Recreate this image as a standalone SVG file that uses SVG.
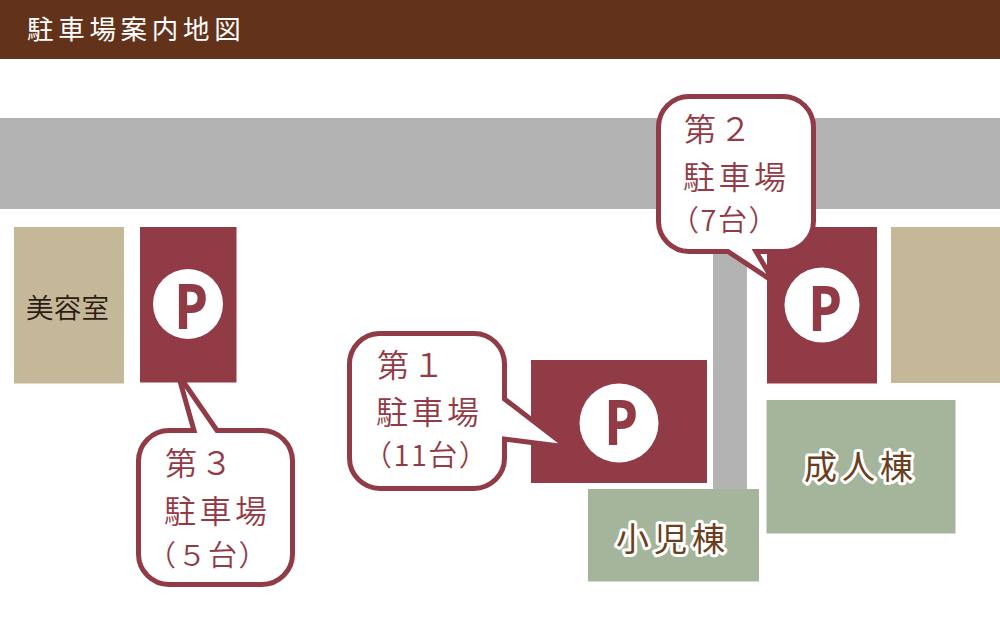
<svg xmlns="http://www.w3.org/2000/svg" width="1000" height="643" viewBox="0 0 1000 643">
<style>
text{font-family:"Noto Sans CJK JP","Noto Sans",sans-serif}
.road{fill:#b3b3b3}
.tan{fill:#c5b898}
.green{fill:#a5b59b}
.park{fill:#913b46}
.circ{fill:#fff}
.p{font-family:"Open Sans","Noto Sans",sans-serif;font-weight:700;font-size:62px;fill:#913b46;text-anchor:middle}
.bub{fill:#fff;stroke:#913b46;stroke-width:5;stroke-linejoin:miter}
.lab{font-size:32px;letter-spacing:3.5px;fill:#913b46;font-weight:350}
.sm{font-size:29px;letter-spacing:1.5px;fill:#913b46;font-weight:350}
.bld{font-size:33px;letter-spacing:5px;fill:#6b3f1e;stroke:#fff;stroke-width:6px;stroke-linejoin:round;paint-order:stroke;font-weight:400}
</style>
<rect width="1000" height="643" fill="#fff"/>
<g id="header"><rect width="1000" height="59" fill="#62331a"/>
<text x="27" y="39" font-size="26.5" letter-spacing="4.7" fill="#fff" font-weight="400">駐車場案内地図</text></g>
<g id="roads"><rect class="road" y="118" width="1000" height="91"/><rect class="road" x="713" y="240" width="34" height="252"/></g>
<g id="beauty"><rect class="tan" x="14" y="227" width="110" height="156.500"/>
<text x="26" y="318" font-size="27.500" letter-spacing="0.300" fill="#2a1d14" font-weight="350">美容室</text></g>
<g id="tan-right"><rect class="tan" x="891" y="227" width="109" height="156"/></g>
<g id="adult"><rect class="green" x="766.500" y="400" width="189" height="133.500"/>
<text class="bld" x="804" y="479">成人棟</text></g>
<g id="lot1"><rect class="park" x="531" y="360" width="176" height="123"/><circle class="circ" cx="619" cy="423" r="39.500"/><text class="p" transform="translate(621 445) scale(.88 1)">P</text></g>
<g id="lot2"><rect class="park" x="767" y="227" width="110" height="156.500"/><circle class="circ" cx="822" cy="305" r="37.500"/><text class="p" transform="translate(825 331) scale(.88 1)">P</text></g>
<g id="lot3"><rect class="park" x="140" y="227" width="96.500" height="155.500"/><circle class="circ" cx="188" cy="304" r="35"/><text class="p" transform="translate(191 329) scale(.88 1)">P</text></g>
<g id="child"><rect class="green" x="588" y="489" width="171" height="92.500"/>
<text class="bld" x="616" y="551">小児棟</text></g>
<g id="connectors"></g>
<g id="callout1"><path class="bub" d="M379 333.500H474A30.500 30.500 0 0 1 504.500 364V399L567 447L504.500 439V458A30.500 30.500 0 0 1 474 488.500H380A30.500 30.500 0 0 1 349.500 458V364A30.500 30.500 0 0 1 379 333.500Z"/>
<text class="lab" x="377" y="377">第１</text><text class="lab" x="376" y="424">駐車場</text><text class="sm" x="363" y="466">（11台）</text></g>
<g id="callout2"><path class="bub" d="M689 96.500H783A30.500 30.500 0 0 1 813.500 127V221A30.500 30.500 0 0 1 783 251.500H756L774 282L728 251.500H689A30.500 30.500 0 0 1 658.500 221V127A30.500 30.500 0 0 1 689 96.500Z"/>
<text class="lab" x="684" y="141">第２</text><text class="lab" x="683" y="189">駐車場</text><text class="sm" x="670" y="231">（7台）</text></g>
<g id="callout3"><path class="bub" d="M169 430.500H194L178 374L217 430.500H262A30.500 30.500 0 0 1 292.500 461V554A30.500 30.500 0 0 1 262 584.500H169A30.500 30.500 0 0 1 138.500 554V461A30.500 30.500 0 0 1 169 430.500Z"/>
<text class="lab" x="165" y="475">第３</text><text class="lab" x="164" y="523">駐車場</text><text class="sm" x="147" y="566" letter-spacing="0">（５台）</text></g>
</svg>
